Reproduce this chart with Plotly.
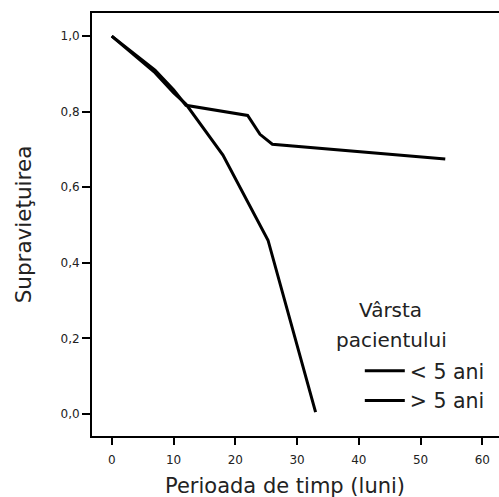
import plotly.graph_objects as go

# Data
months_lt5 = [0, 7, 10, 12, 22, 24, 26, 54]
surv_lt5 = [1.0, 0.91, 0.858, 0.817, 0.79, 0.74, 0.714, 0.675]
months_gt5 = [0, 7, 10, 12, 18, 25.3, 33]
surv_gt5 = [1.0, 0.903, 0.85, 0.82, 0.685, 0.46, 0.005]
series_names = ["< 5 ani", "> 5 ani"]
legend_title_lines = ["Vârsta", "pacientului"]
x_ticks = [0, 10, 20, 30, 40, 50, 60]
y_ticks = [0.0, 0.2, 0.4, 0.6, 0.8, 1.0]

FONT = "DejaVu Sans"
TXT = "#222"

fig = go.Figure()
fig.add_trace(go.Scatter(x=months_lt5, y=surv_lt5, mode="lines", name=series_names[0],
                         line=dict(color="black", width=3)))
fig.add_trace(go.Scatter(x=months_gt5, y=surv_gt5, mode="lines", name=series_names[1],
                         line=dict(color="black", width=3)))

fig.update_layout(
    width=499, height=497,
    margin=dict(l=92, r=0, t=13, b=61),
    paper_bgcolor="white", plot_bgcolor="white",
    separators=",.",
    font=dict(family=FONT, color=TXT),
    showlegend=True,
    legend=dict(
        font=dict(family=FONT, size=20.5, color=TXT),
        x=0.658, xanchor="left", y=0.201, yanchor="top",
        bgcolor="rgba(0,0,0,0)", itemwidth=40, tracegroupgap=0,
    ),
)
# legend title lines and x-axis title as text annotations
fig.add_annotation(text=legend_title_lines[0], xref="paper", yref="paper",
                   x=(390 - 92) / 407, y=(436 - 310) / 423, showarrow=False,
                   xanchor="center", yanchor="middle", font=dict(family=FONT, size=20, color=TXT))
fig.add_annotation(text=legend_title_lines[1], xref="paper", yref="paper",
                   x=(391 - 92) / 407, y=(436 - 340) / 423, showarrow=False,
                   xanchor="center", yanchor="middle", font=dict(family=FONT, size=20, color=TXT))
fig.add_annotation(text="Perioada de timp (luni)", xref="paper", yref="paper",
                   x=(285 - 92) / 407, y=(436 - 486) / 423, showarrow=False,
                   xanchor="center", yanchor="middle", font=dict(family=FONT, size=21, color=TXT))

fig.update_xaxes(
    range=[-3.2, 62.7], tickvals=x_ticks, ticks="outside", ticklen=7, tickwidth=2,
    tickcolor="black", showline=True, linecolor="black", linewidth=2, mirror=True,
    showgrid=False, zeroline=False, tickfont=dict(family=FONT, size=12, color=TXT),
    automargin=False, ticklabelstandoff=5,
)
fig.update_yaxes(
    range=[-0.058, 1.061], tickvals=y_ticks, tickformat=".1f", ticks="outside", ticklen=8,
    tickwidth=2, tickcolor="black", showline=True, linecolor="black", linewidth=2,
    showgrid=False, zeroline=False, tickfont=dict(family=FONT, size=12, color=TXT),
    automargin=False,
    title=dict(text="Supravieţuirea", font=dict(family=FONT, size=21.5, color=TXT),
               standoff=23),
)

fig.write_html(
    "out.html",
    config={"displayModeBar": False},
    post_script="document.body.style.margin='0';document.body.style.overflow='hidden';",
)
